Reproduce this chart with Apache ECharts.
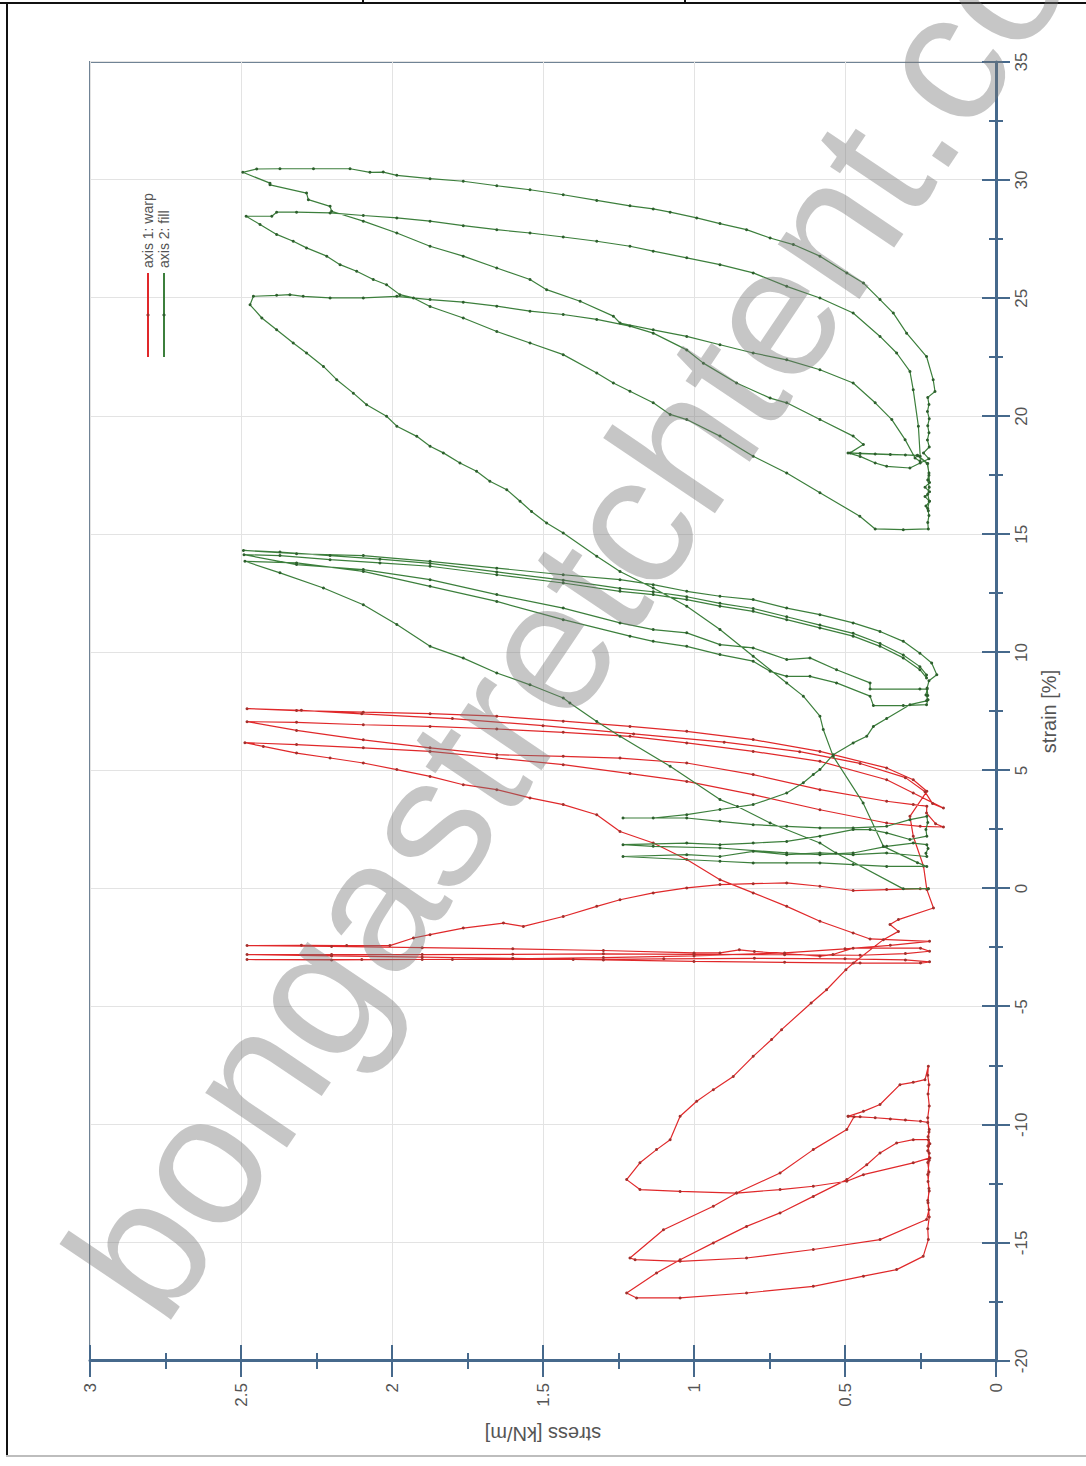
<!DOCTYPE html>
<html><head><meta charset="utf-8">
<script src="https://cdn.jsdelivr.net/npm/echarts@6/dist/echarts.min.js"></script>
<style>
html,body{margin:0;padding:0;background:#fff;}
body{width:1086px;height:1466px;position:relative;overflow:hidden;font-family:'Liberation Sans',Arial,sans-serif;}
#chart{position:absolute;left:0;top:0;width:1466px;height:1086px;transform-origin:0 0;transform:translate(0px,1466px) rotate(-90deg);}
.ln{position:absolute;background:#111;}
#wm{position:absolute;left:34px;top:1242px;font-size:186px;line-height:1;white-space:nowrap;color:rgba(120,120,120,0.42);transform-origin:0 0;transform:rotate(-56deg);pointer-events:none;font-family:'Liberation Sans',Arial,sans-serif;}
</style></head>
<body>
<div id="chart"></div>
<div class="ln" style="left:0;top:2px;width:1086px;height:2px"></div>
<div class="ln" style="left:6px;top:2px;width:2px;height:1454px"></div>
<div class="ln" style="left:6px;top:1455px;width:1080px;height:2px;background:#bdbdbd"></div>
<div class="ln" style="left:362px;top:0;width:2px;height:3px"></div>
<div class="ln" style="left:684px;top:0;width:2px;height:3px"></div>
<div id="wm">bongastretchtent.com</div>
<script>
// tick values
const strainTicks = [-20,-15,-10,-5,0,5,10,15,20,25,30,35];
const stressTicks = [0,0.5,1,1.5,2,2.5,3];
const seriesNames = ['axis 1: warp','axis 2: fill'];

// ---- warp (axis 1) : [strain %, stress kN/m] ----
const warpLoad11 = [[0.00,0.224],[0.00,0.251],[-0.04,0.362],[-0.08,0.473],[0.10,0.583],[0.24,0.693],[0.21,0.804],[0.17,0.914],[0.03,1.024],[-0.18,1.135],[-0.47,1.245],[-0.75,1.322],[-1.18,1.433],[-1.60,1.565],[-1.46,1.631],[-1.67,1.764],[-1.95,1.874],[-2.09,1.929],[-2.41,2.007],[-2.41,2.15],[-2.40,2.30],[-2.41,2.48]];
const warpCycles11 = [[-2.45,2.2],[-2.5,1.9],[-2.55,1.6],[-2.62,1.3],[-2.72,1.0],[-2.72,0.914],[-2.59,0.85],[-2.66,0.80],[-2.86,0.583],[-2.79,0.54],[-2.52,0.473],[-2.52,0.25],[-2.65,0.22],
 [-2.75,0.30],[-2.82,0.45],[-2.80,0.70],[-2.78,1.0],[-2.76,1.3],[-2.78,1.6],[-2.79,1.9],[-2.79,2.2],[-2.79,2.48],
 [-2.85,2.2],[-2.9,1.9],[-2.95,1.6],[-3.02,1.3],[-3.08,1.0],[-3.12,0.7],[-3.15,0.45],[-3.15,0.25],[-3.1,0.22],
 [-3.02,0.30],[-2.97,0.5],[-2.95,0.8],[-2.97,1.1],[-3.0,1.4],[-3.0,1.8],[-3.0,2.1],[-3.0,2.48],
 [-3.02,2.2],[-3.0,1.9],[-2.97,1.6],[-2.92,1.3],[-2.85,1.0],[-2.72,0.7],[-2.55,0.5],[-2.40,0.35],[-2.23,0.22]];
const warpLoad21 = [[-2.13,0.417],[-1.88,0.473],[-1.38,0.583],[-0.75,0.693],[-0.18,0.804],[0.38,0.914],[1.23,1.024],[1.93,1.135],[2.42,1.245],[3.13,1.322],[3.56,1.433],[3.84,1.543],[4.19,1.653],[4.40,1.764],[4.75,1.874],[5.04,1.984],[5.32,2.095],[5.53,2.205],[5.74,2.316],[6.02,2.426],[6.18,2.487]];
const warpCycles21 = [[6.10,2.316],[5.96,2.095],[5.81,1.874],[5.53,1.653],[5.25,1.433],[4.87,1.212],[4.54,1.024],[3.98,0.804],[3.34,0.583],[2.78,0.362],[2.64,0.251],[2.61,0.174],
 [2.75,0.20],[3.2,0.23],[3.49,0.229],[3.56,0.274],[3.70,0.362],[4.19,0.583],[4.83,0.804],[5.32,1.024],[5.53,1.245],[5.60,1.433],[5.67,1.653],[5.96,1.874],[6.30,2.095],[6.70,2.316],[7.07,2.48],
 [7.04,2.316],[6.94,2.095],[6.87,1.874],[6.76,1.653],[6.62,1.433],[6.45,1.212],[6.17,1.024],[5.81,0.804],[5.39,0.583],[4.61,0.362],[4.05,0.274],[3.41,0.174],
 [3.6,0.21],[4.1,0.235],[4.7,0.30],[5.3,0.45],[5.8,0.65],[6.2,0.9],[6.55,1.2],[6.9,1.5],[7.2,1.8],[7.4,2.1],[7.55,2.3],[7.62,2.48],
 [7.54,2.316],[7.47,2.095],[7.41,1.874],[7.30,1.653],[7.09,1.433],[6.87,1.212],[6.66,1.024],[6.31,0.804],[5.81,0.583],[5.11,0.362],[4.61,0.274],[4.12,0.229]];
const warpLoad12 = [[3.06,0.285],[2.22,0.274],[0.95,0.240],[-0.04,0.229],[-0.82,0.207],[-1.31,0.323],[-1.52,0.351],[-1.81,0.323],[-2.16,0.373],[-3.15,0.472],[-3.43,0.497],[-4.28,0.561],[-4.84,0.612],[-5.97,0.71],[-6.39,0.743],[-7.10,0.804],[-7.95,0.870],[-8.51,0.936],[-9.00,0.991],[-9.64,1.046],[-10.63,1.079],[-11.05,1.124],[-11.61,1.179],[-12.32,1.223]];
const warpCycles12 = [[-12.74,1.179],[-12.82,1.046],[-12.89,0.859],[-12.74,0.715],[-12.60,0.605],[-12.39,0.494],[-12.11,0.439],[-11.61,0.274],[-11.40,0.219],
 [-11.1,0.226],[-10.8,0.219],[-10.5,0.225],[-10.2,0.221],[-9.9,0.226],
 [-9.85,0.25],[-9.8,0.3],[-9.75,0.35],[-9.7,0.4],[-9.66,0.45],[-9.64,0.489],[-9.66,0.47],
 [-10.20,0.494],[-11.05,0.605],[-12.04,0.715],[-12.89,0.859],[-13.45,0.936],[-14.44,1.101],[-15.64,1.212],
 [-15.71,1.195],[-15.78,1.046],[-15.64,0.826],[-15.28,0.605],[-14.86,0.384],[-14.01,0.230],
 [-13.6,0.222],[-13.2,0.226],[-12.8,0.221],[-12.4,0.225],[-12.0,0.222],[-11.6,0.226],[-11.2,0.221],[-10.9,0.225],[-10.63,0.224],
 [-10.63,0.274],[-10.77,0.329],[-11.19,0.384],[-11.69,0.428],[-12.32,0.494],[-13.03,0.605],[-13.73,0.715],[-14.30,0.826],[-15.00,0.936],[-15.71,1.046],[-16.27,1.124],[-17.12,1.223],
 [-17.33,1.190],[-17.33,1.046],[-17.12,0.826],[-16.84,0.605],[-16.41,0.439],[-16.13,0.329],[-15.57,0.241],[-14.86,0.224],
 [-14.4,0.226],[-13.9,0.221],[-13.3,0.225],[-12.7,0.222],[-12.1,0.226],[-11.5,0.221],[-10.9,0.225],[-10.3,0.222],[-9.7,0.226],[-9.2,0.221],[-8.7,0.225],[-8.3,0.222],[-7.9,0.226],[-7.52,0.224],
 [-8.09,0.235],[-8.20,0.274],[-8.30,0.318],[-9.14,0.384],[-9.43,0.439],[-9.64,0.49]];

// ---- fill (axis 2) : [strain %, stress kN/m] ----
const fillLoad11 = [[0.00,0.224],[-0.01,0.307],[1.51,0.530],[1.93,0.583],[2.78,0.748],[3.48,0.856],[3.77,0.914],[5.18,1.079],[6.45,1.245],[7.08,1.322],[7.86,1.411],[8.07,1.433],[8.63,1.543],[9.13,1.653],[9.76,1.764],[10.26,1.874],[11.18,1.984],[12.02,2.095],[12.73,2.227],[13.37,2.371],[13.86,2.487]];
const fillCycles11 = [[13.79,2.316],[13.43,2.095],[12.80,1.874],[12.16,1.653],[11.39,1.433],[10.69,1.212],[10.47,1.135],[10.26,1.024],[9.91,0.914],[9.63,0.804],[9.20,0.748],[8.99,0.693],[8.99,0.616],[8.71,0.528],[8.15,0.417],[7.75,0.406],[7.75,0.307],[7.79,0.230],
 [8.0,0.225],[8.2,0.232],[8.45,0.228],
 [8.45,0.252],[8.45,0.417],[8.71,0.417],[9.27,0.528],[9.77,0.616],[9.70,0.693],[10.19,0.804],[10.33,0.914],[10.83,1.024],[10.97,1.135],[11.25,1.245],[11.88,1.433],[12.45,1.653],[13.08,1.874],[13.51,2.095],[13.72,2.316],[14.14,2.49],
 [14.10,2.371],[13.93,2.205],[13.79,2.040],[13.65,1.874],[13.29,1.653],[12.94,1.433],[12.59,1.245],[12.45,1.135],[12.24,1.024],[11.96,0.914],[11.74,0.804],[11.39,0.693],[11.04,0.583],[10.69,0.473],[10.26,0.384],[9.77,0.307],[9.27,0.252],[8.92,0.230],
 [9.05,0.230],[9.40,0.252],[9.89,0.307],[10.38,0.384],[10.81,0.473],[11.16,0.583],[11.51,0.693],[11.86,0.804],[12.08,0.914],[12.36,1.024],[12.57,1.135],[12.71,1.245],[13.06,1.433],[13.41,1.653],[13.77,1.874],[13.95,2.040],[14.10,2.205],[14.25,2.371],[14.32,2.492],
 [14.18,2.316],[14.10,2.095],[13.86,1.874],[13.57,1.653],[13.29,1.433],[13.08,1.245],[12.87,1.135],[12.59,1.024],[12.38,0.914],[12.24,0.804],[11.88,0.693],[11.60,0.583],[11.25,0.473],[10.89,0.384],[10.47,0.307],[9.97,0.252],[9.55,0.213],[9.06,0.196],
 [8.8,0.222],[8.5,0.228],[8.18,0.226],[7.95,0.230]];
const fillLoad21 = [[7.79,0.285],[7.20,0.362],[6.87,0.406],[6.45,0.428],[6.17,0.473],[5.67,0.539],[5.04,0.583],[4.83,0.605],[4.48,0.638],[4.05,0.693],[3.56,0.804],[3.35,0.914],[3.13,1.024],[2.99,1.135],[2.99,1.235]];
const fillCycles21 = [[2.99,1.024],[2.85,0.914],[2.71,0.804],[2.64,0.693],[2.57,0.583],[2.57,0.473],[2.64,0.362],[2.92,0.285],[3.06,0.229],
 [2.8,0.226],[2.5,0.232],[2.22,0.229],
 [2.08,0.285],[2.36,0.362],[2.50,0.417],[2.50,0.473],[2.22,0.583],[2.00,0.693],[1.93,0.804],[1.86,0.914],[1.93,1.024],[1.86,1.235],
 [1.79,1.135],[1.72,0.914],[1.51,0.693],[1.44,0.583],[1.51,0.473],[1.79,0.362],[1.93,0.274],[1.86,0.229],
 [1.7,0.225],[1.5,0.232],[1.36,0.229],
 [1.51,0.362],[1.44,0.473],[1.51,0.583],[1.44,0.693],[1.58,0.804],[1.36,0.914],[1.44,1.024],[1.36,1.235],
 [1.16,0.914],[1.09,0.804],[1.09,0.693],[1.09,0.583],[1.02,0.473],[0.94,0.362],[0.94,0.229]];
const fillLoad12 = [[1.10,0.26],[1.79,0.373],[3.63,0.44],[5.60,0.539],[6.74,0.572],[7.30,0.583],[8.15,0.638],[8.71,0.693],[9.84,0.804],[10.97,0.914],[11.96,1.024],[12.73,1.135],[13.43,1.245],[14.07,1.322],[15.06,1.433],[15.48,1.488],[15.97,1.538],[16.40,1.576],[16.89,1.620],[17.25,1.676],[17.67,1.720],[18.02,1.775],[18.45,1.830],[18.73,1.874],[19.15,1.918],[19.58,1.984],[20.00,2.018],[20.49,2.084],[20.98,2.128],[21.55,2.183],[22.11,2.227],[22.68,2.283],[23.10,2.327],[23.66,2.382],[24.16,2.431],[24.72,2.470]];
const fillCycles12 = [[25.08,2.459],[25.12,2.382],[25.15,2.338],[25.08,2.294],[25.01,2.205],[25.01,2.095],[25.08,1.984],[24.94,1.874],[24.83,1.764],[24.66,1.653],[24.45,1.543],[24.31,1.433],[24.10,1.322],[23.82,1.212],[23.52,1.135],[22.81,1.024],[22.25,0.969],[21.41,0.859],[20.77,0.748],[20.57,0.693],[19.86,0.583],[19.16,0.473],[18.80,0.439],[18.45,0.483],
 [18.42,0.45],[18.40,0.40],[18.38,0.35],[18.36,0.30],[18.33,0.26],
 [18.0,0.228],[17.6,0.222],[17.3,0.226],[17.0,0.221],[16.7,0.226],[16.4,0.221],[16.1,0.226],[15.8,0.222],[15.5,0.226],[15.23,0.224],
 [15.20,0.307],[15.23,0.400],[15.77,0.451],[16.76,0.583],[17.60,0.693],[18.31,0.804],[19.16,0.914],[19.86,1.024],[20.08,1.079],[20.57,1.135],[21.06,1.212],[21.41,1.267],[21.83,1.322],[22.61,1.433],[23.10,1.543],[23.59,1.653],[24.16,1.764],[24.65,1.874],[25.01,1.929],[25.15,1.974],[25.57,2.018],[25.79,2.062],[26.14,2.117],[26.42,2.172],[26.78,2.216],[27.13,2.283],[27.41,2.327],[27.70,2.382],[28.12,2.437],[28.47,2.483],
 [28.47,2.398],[28.64,2.382],[28.64,2.316],[28.61,2.205],[28.50,2.095],[28.40,1.984],[28.26,1.874],[28.07,1.764],[27.90,1.653],[27.76,1.543],[27.59,1.433],[27.41,1.322],[27.20,1.212],[26.99,1.135],[26.71,1.024],[26.42,0.914],[26.07,0.804],[25.50,0.693],[25.01,0.583],[24.37,0.473],[23.38,0.384],[22.68,0.329],[21.90,0.285],[21.12,0.274],[19.58,0.257],[18.31,0.251],
 [18.09,0.251],[18.23,0.268],[19.01,0.301],[19.86,0.345],[20.57,0.400],[21.41,0.473],[21.97,0.583],[22.39,0.693],[22.68,0.804],[23.03,0.914],[23.38,1.024],[23.66,1.135],[23.95,1.245],[24.24,1.267],[24.87,1.377],[25.36,1.488],[25.79,1.543],[26.28,1.653],[26.78,1.764],[27.20,1.874],[27.76,1.984],[28.26,2.095],[28.68,2.200],[28.89,2.205],[29.17,2.277],[29.45,2.283],[29.80,2.404],[29.87,2.404],[30.33,2.494],
 [30.47,2.448],[30.48,2.371],[30.48,2.260],[30.48,2.139],[30.33,2.073],[30.34,2.029],[30.20,1.984],[30.06,1.874],[29.95,1.764],[29.76,1.653],[29.59,1.543],[29.38,1.433],[29.14,1.322],[28.91,1.212],[28.78,1.135],[28.64,1.079],[28.40,0.991],[28.16,0.914],[27.90,0.826],[27.55,0.748],[27.27,0.671],[26.78,0.583],[26.07,0.494],[25.64,0.439],[24.94,0.384],[24.37,0.340],[23.52,0.296],[22.53,0.230],[21.55,0.208],[21.05,0.202],
 [20.8,0.226],[20.5,0.222],[20.2,0.227],[19.9,0.221],[19.6,0.226],[19.3,0.222],[19.0,0.227],[18.7,0.221],[18.45,0.24],[18.2,0.222],[18.02,0.251],[17.81,0.285],[17.88,0.362],[18.02,0.40],[18.3,0.45],[18.45,0.49],
 [18.35,0.26],[18.0,0.226],[17.5,0.222],[17.2,0.22],[17.0,0.235],[16.8,0.22],[16.6,0.235],[16.4,0.22],[16.2,0.232],[16.0,0.224]];

const warpPath = [].concat(warpLoad11, warpCycles11, warpLoad21, warpCycles21, warpLoad12, warpCycles12);
const fillPath = [].concat(fillLoad11, fillCycles11, fillLoad21, fillCycles21, fillLoad12, fillCycles12);

const AX = '#46698c', FRAME = '#708395', GRID = '#e3e3e3', TXT = '#555';
const FONT = "'Liberation Sans', Arial, sans-serif";
const sMin = strainTicks[0], sMax = strainTicks[strainTicks.length-1], sStep = strainTicks[1]-strainTicks[0];
const tMin = stressTicks[0], tMax = stressTicks[stressTicks.length-1], tStep = stressTicks[1]-stressTicks[0];

function strainAxis(inside) {
  return {
    type:'value', min:sMin, max:sMax, interval:sStep, position:'bottom',
    name: inside ? '' : 'strain [%]', nameLocation:'middle', nameGap:43,
    nameTextStyle:{fontSize:20, color:TXT, fontFamily:FONT},
    axisLine:{show:!inside, onZero:false, lineStyle:{color:AX, width:3}},
    axisTick:{show:true, inside:inside, length:14, lineStyle:{color:AX, width:2}},
    minorTick:{show:true, splitNumber:2, length:7, lineStyle:{color:AX, width:2}},
    axisLabel:{show:!inside, margin:17, fontSize:17, color:TXT, fontFamily:FONT},
    splitLine:{show:!inside, lineStyle:{color:GRID, width:1}},
    minorSplitLine:{show:false}
  };
}
function stressAxis(inside) {
  return {
    type:'value', min:tMin, max:tMax, interval:tStep, position:'left',
    name: inside ? '' : 'stress [kN/m]', nameLocation:'middle', nameGap:63,
    nameTextStyle:{fontSize:20, color:TXT, fontFamily:FONT},
    axisLine:{show:!inside, onZero:false, lineStyle:{color:AX, width:3}},
    axisTick:{show:true, inside:inside, length:16, lineStyle:{color:AX, width:2}},
    minorTick:{show:true, splitNumber:2, length:8, lineStyle:{color:AX, width:2}},
    axisLabel:{show:!inside, margin:22, fontSize:17, color:TXT, fontFamily:FONT},
    splitLine:{show:!inside, lineStyle:{color:GRID, width:1}},
    minorSplitLine:{show:false}
  };
}

const chart = echarts.init(document.getElementById('chart'), null, {renderer:'svg', width:1466, height:1086});
chart.setOption({
  animation:false,
  backgroundColor:'#fff',
  grid:{left:105, right:62, top:90, bottom:90, show:true, borderColor:FRAME, borderWidth:2, backgroundColor:'transparent'},
  legend:{data:seriesNames, orient:'vertical', left:1103, top:136, itemWidth:84, itemHeight:4, itemGap:2, padding:5,
    textStyle:{fontSize:14, color:TXT, fontFamily:FONT, lineHeight:14}},
  xAxis:[strainAxis(false), strainAxis(true)],
  yAxis:[stressAxis(false), stressAxis(true)],
  series:[
    {name:seriesNames[0], type:'line', xAxisIndex:0, yAxisIndex:0, data:warpPath,
     symbol:'circle', symbolSize:3, showSymbol:true, smooth:false,
     lineStyle:{color:'#e0282a', width:1.2}, itemStyle:{color:'#a3302c'},
     emphasis:{disabled:true}, z:3},
    {name:seriesNames[1], type:'line', xAxisIndex:0, yAxisIndex:0, data:fillPath,
     symbol:'circle', symbolSize:3, showSymbol:true, smooth:false,
     lineStyle:{color:'#3c7f3c', width:1.2}, itemStyle:{color:'#2d5f2d'},
     emphasis:{disabled:true}, z:4}
  ]
});
</script>
</body></html>
